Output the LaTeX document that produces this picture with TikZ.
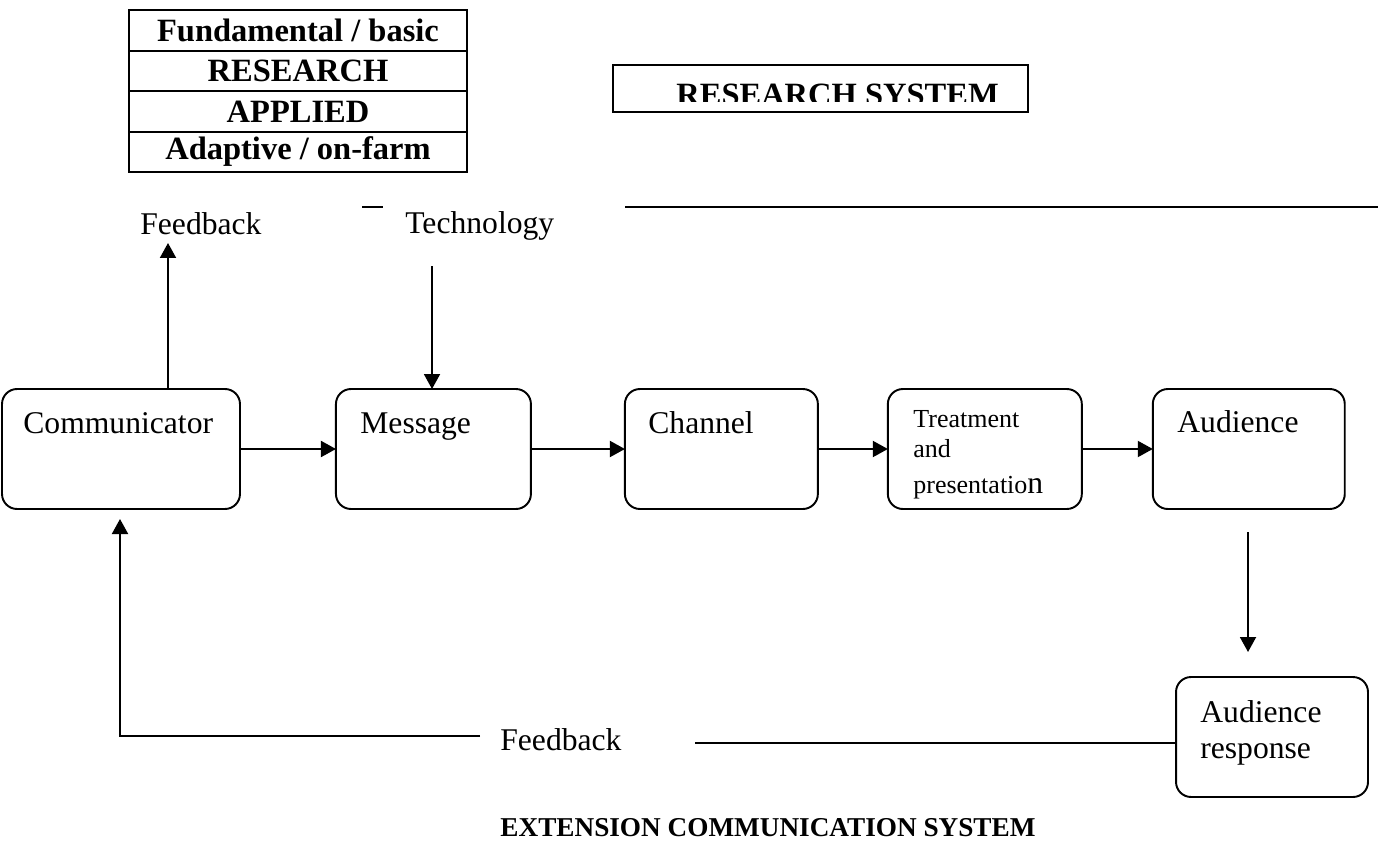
\documentclass[tikz,border=0pt]{standalone}
\usepackage{fontspec}
\setmainfont{Liberation Serif}
\usetikzlibrary{positioning, arrows.meta}

\begin{document}
\begin{tikzpicture}[x=0.02cm, y=-0.02cm,
    stage/.style={draw, rounded corners=0.3cm, minimum height=2.4cm, line width=1.1pt, inner sep=0pt, outer sep=0pt},
    boxtext/.style={anchor=base west, inner sep=0pt, font=\fontsize{18}{21}\selectfont},
    tablerow/.style={draw, minimum width=6.76cm, minimum height=0.81cm, line width=1.1pt, inner sep=0pt, outer sep=0pt, font=\fontsize{18.5}{21}\selectfont\bfseries},
    flow/.style={-{Triangle[length=0.3cm, width=0.32cm]}, line width=1.1pt},
    plain/.style={line width=1.1pt}]
    \useasboundingbox (0,0) rectangle (1381,841);

    % Research table
    \node[tablerow] (Fund) at (298,30.5) {Fundamental / basic};
    \node[tablerow, below=0pt of Fund] (Res) {RESEARCH};
    \node[tablerow, below=0pt of Res] (Appl) {APPLIED};
    \node[tablerow, below=0pt of Appl] (Adapt) {Adaptive / on-farm};

    % Research system box
    \node[draw, line width=1.1pt, minimum width=8.3cm, minimum height=0.94cm, inner sep=0pt] (ResSys) at (820.5,88.5) {};
    \begin{scope}
        \clip (613,65) rectangle (1028,102);
        \node[anchor=base west, inner sep=0pt, font=\fontsize{18.5}{21}\selectfont\bfseries] (ResSysText) at (676,106) {RESEARCH SYSTEM};
    \end{scope}

    % Rules
    \draw[plain] (362,207) -- (383,207);
    \draw[plain] (625,207) -- (1378,207);

    % Top labels
    \node[boxtext] (FbTop) at (140,235) {Feedback};
    \node[boxtext] (Tech) at (405,233) {Technology};

    % Stages
    \node[stage, minimum width=4.76cm] (Comm) at (121,449) {};
    \node[stage, minimum width=3.9cm, right=1.92cm of Comm] (Msg) {};
    \node[stage, minimum width=3.86cm, right=1.88cm of Msg] (Chan) {};
    \node[stage, minimum width=3.88cm, right=1.4cm of Chan] (Treat) {};
    \node[stage, minimum width=3.84cm, right=1.42cm of Treat] (Aud) {};
    \node[stage, minimum width=3.84cm] (Resp) at (1272,737) {};

    % Stage texts
    \node[boxtext] (CommText) at (23,433) {Communicator};
    \node[boxtext] (MsgText) at (360,433) {Message};
    \node[boxtext] (ChanText) at (648,433) {Channel};
    \node[boxtext, font=\fontsize{14.8}{17}\selectfont] (TreatA) at (913,427) {Treatment};
    \node[boxtext, font=\fontsize{14.8}{17}\selectfont] (TreatB) at (913,457) {and};
    \node[boxtext, font=\fontsize{14.8}{17}\selectfont] (TreatC) at (913,493) {presentatio{\fontsize{18}{21}\selectfont n}};
    \node[boxtext] (AudText) at (1177,432) {Audience};
    \node[boxtext] (RespA) at (1200,722) {Audience};
    \node[boxtext] (RespB) at (1200,758) {response};

    % Flow arrows
    \draw[flow] (Comm.east) -- (Msg.west);
    \draw[flow] (Msg.east) -- (Chan.west);
    \draw[flow] (Chan.east) -- (Treat.west);
    \draw[flow] (Treat.east) -- (Aud.west);

    \coordinate (FbTip) at (168,243);
    \draw[flow] (Comm.north -| FbTip) -- (FbTip);
    \coordinate (TechTail) at (432,266);
    \draw[flow] (TechTail) -- (TechTail |- Msg.north);
    \coordinate (AudTail) at (1248,532);
    \coordinate (AudTip) at (1248,652);
    \draw[flow] (AudTail) -- (AudTip);

    % Feedback loop
    \node[boxtext] (FbLow) at (500,750) {Feedback};
    \coordinate (FbRight) at (695,743);
    \draw[plain] (Resp.west |- FbRight) -- (FbRight);
    \coordinate (FbLeft) at (480,736);
    \coordinate (FbCorner) at (120,736);
    \coordinate (FbEnd) at (120,519);
    \draw[flow] (FbLeft) -- (FbCorner) -- (FbEnd);

    % Title
    \node[anchor=base, inner sep=0pt, font=\fontsize{15.5}{18}\selectfont\bfseries] (Title) at (768,836) {EXTENSION COMMUNICATION SYSTEM};
\end{tikzpicture}
\end{document}
